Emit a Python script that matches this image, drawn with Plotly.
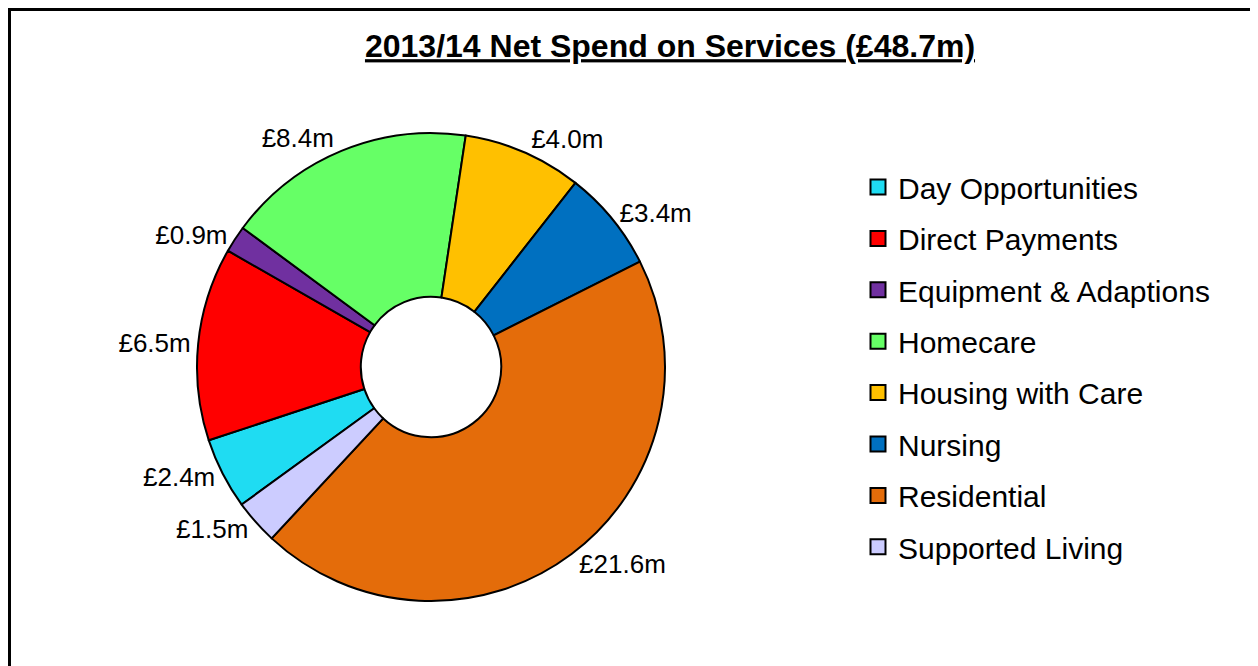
import plotly.graph_objects as go

categories = ["Day Opportunities", "Direct Payments", "Equipment & Adaptions", "Homecare",
              "Housing with Care", "Nursing", "Residential", "Supported Living"]
values = [2.4, 6.5, 0.9, 8.4, 4.0, 3.4, 21.6, 1.5]
colors = ["#1FDCF2", "#FF0000", "#7030A0", "#66FF66", "#FFC000", "#0070C0", "#E46C0A", "#CCCCFF"]
title_text = "2013/14 Net Spend on Services (£48.7m)"

W, H = 1258, 666
OFF = 8  # page body margin offset
cx, cy, R = 431 - OFF, 367 - OFF, 234

fig = go.Figure()
fig.add_trace(go.Pie(
    labels=categories, values=values, sort=False, direction="clockwise", rotation=234,
    hole=0.30,
    marker=dict(colors=colors, line=dict(color="black", width=2)),
    texttemplate="£%{value:.1f}m", textposition="outside",
    textfont=dict(family="Liberation Sans, Arial", size=26, color="black"),
    showlegend=False,
    domain=dict(x=[(cx - R) / W, (cx + R) / W], y=[(H - cy - R) / H, (H - cy + R) / H]),
))

for i, (c, col) in enumerate(zip(categories, colors)):
    fig.add_trace(go.Scatter(
        x=[None], y=[None], mode="markers", name=c, legendgroup=c,
        marker=dict(symbol="square", size=15, color=col, line=dict(color="black", width=2)),
    ))

fig.update_layout(
    width=W, height=H,
    margin=dict(l=0, r=0, t=0, b=0),
    paper_bgcolor="white", plot_bgcolor="white",
    xaxis=dict(visible=False), yaxis=dict(visible=False),
    title=dict(text="<b><u>" + title_text + "</u></b>", x=(670 - OFF) / W, xanchor="center",
               y=1 - (46 - OFF) / H, yanchor="middle",
               font=dict(family="Liberation Sans, Arial", size=32, color="black")),
    legend=dict(x=(858 - OFF) / W, xanchor="left", y=1 - (161 - OFF) / H, yanchor="top",
                font=dict(family="Liberation Sans, Arial", size=30, color="black"),
                tracegroupgap=9.4, bgcolor="rgba(0,0,0,0)"),
    shapes=[dict(type="rect", xref="paper", yref="paper",
                 x0=1.5 / W, x1=(1254 - OFF) / W, y0=-0.2, y1=1 - 1.5 / H,
                 line=dict(color="black", width=3), fillcolor="rgba(0,0,0,0)")],
)

fig.write_html("out.html")
